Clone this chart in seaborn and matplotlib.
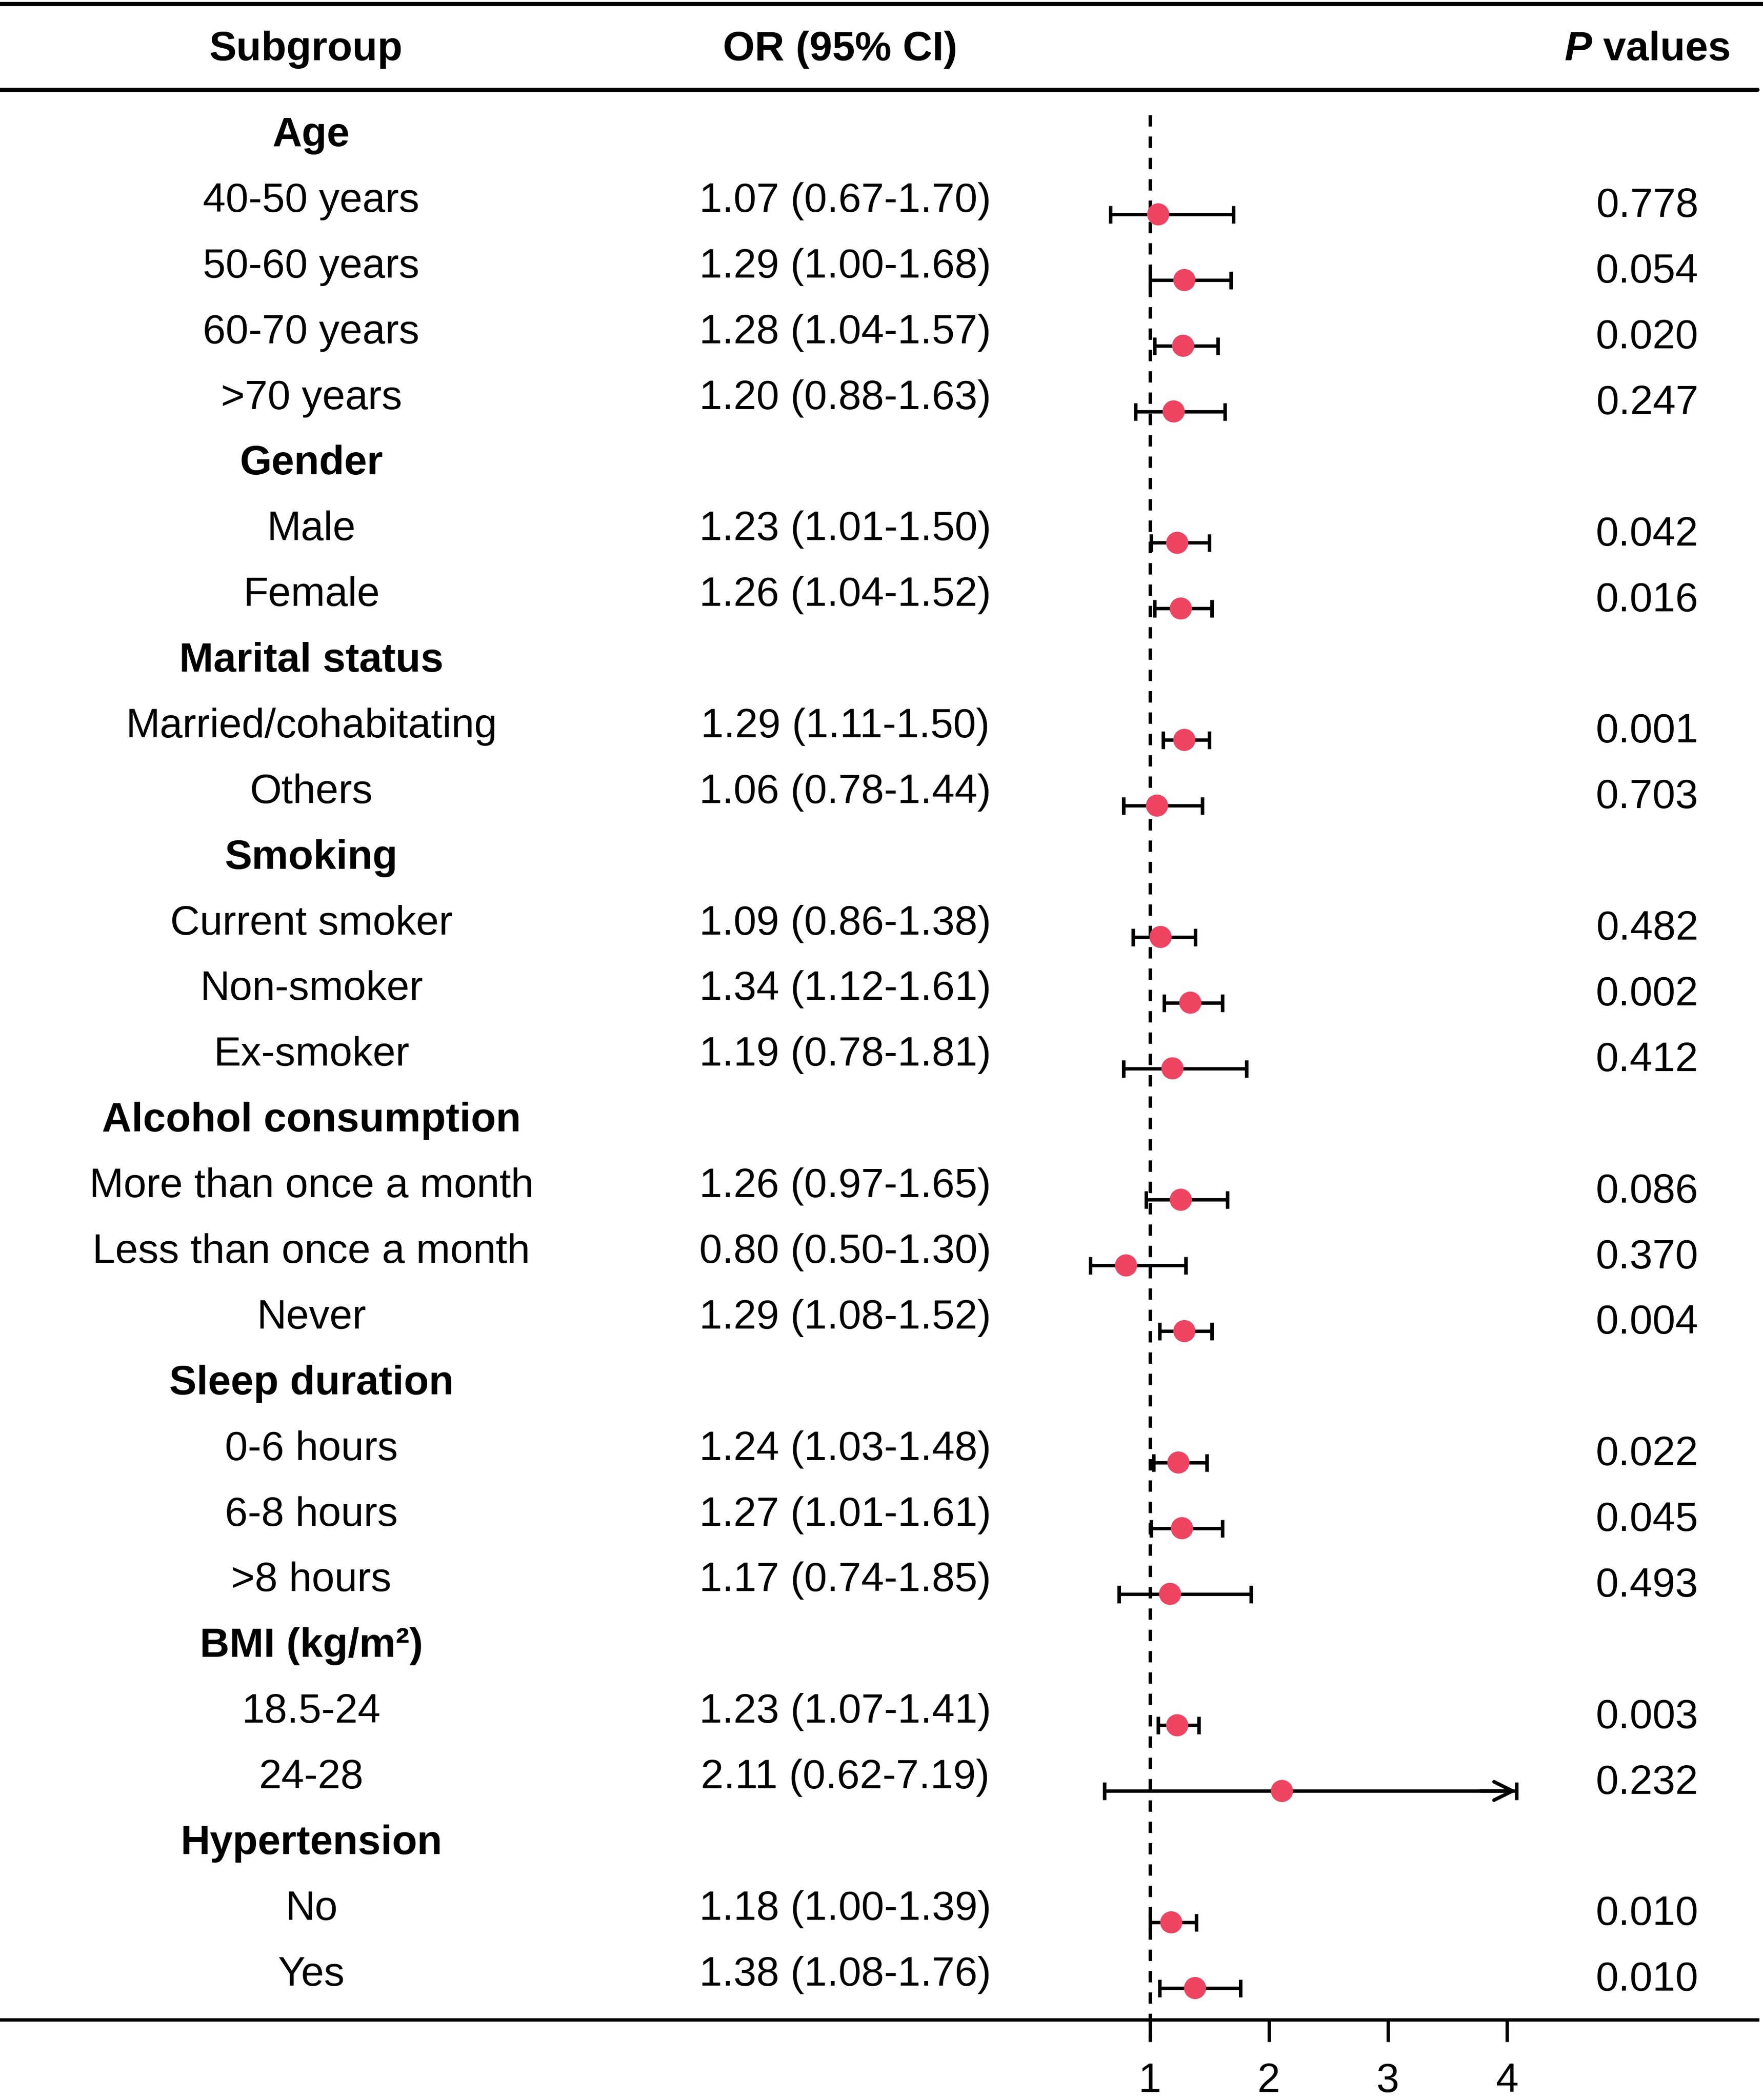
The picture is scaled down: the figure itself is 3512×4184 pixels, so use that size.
import matplotlib
matplotlib.use("Agg")
import matplotlib.pyplot as plt
import matplotlib.transforms as mtransforms
import numpy as np
import pandas as pd
import seaborn as sns

# ---------------- data ----------------
groups = ["Age", "Gender", "Marital status", "Smoking", "Alcohol consumption",
          "Sleep duration", "BMI (kg/m\u00b2)", "Hypertension"]
group_items = [
    ["40-50 years", "50-60 years", "60-70 years", ">70 years"],
    ["Male", "Female"],
    ["Married/cohabitating", "Others"],
    ["Current smoker", "Non-smoker", "Ex-smoker"],
    ["More than once a month", "Less than once a month", "Never"],
    ["0-6 hours", "6-8 hours", ">8 hours"],
    ["18.5-24", "24-28"],
    ["No", "Yes"],
]
or_vals = [1.07, 1.29, 1.28, 1.20, 1.23, 1.26, 1.29, 1.06, 1.09, 1.34, 1.19,
           1.26, 0.80, 1.29, 1.24, 1.27, 1.17, 1.23, 2.11, 1.18, 1.38]
ci_low = [0.67, 1.00, 1.04, 0.88, 1.01, 1.04, 1.11, 0.78, 0.86, 1.12, 0.78,
          0.97, 0.50, 1.08, 1.03, 1.01, 0.74, 1.07, 0.62, 1.00, 1.08]
ci_high = [1.70, 1.68, 1.57, 1.63, 1.50, 1.52, 1.50, 1.44, 1.38, 1.61, 1.81,
           1.65, 1.30, 1.52, 1.48, 1.61, 1.85, 1.41, 7.19, 1.39, 1.76]
p_vals = ["0.778", "0.054", "0.020", "0.247", "0.042", "0.016", "0.001", "0.703",
          "0.482", "0.002", "0.412", "0.086", "0.370", "0.004", "0.022", "0.045",
          "0.493", "0.003", "0.232", "0.010", "0.010"]
x_ticks = [1, 2, 3, 4]
col_headers = ["Subgroup", "OR (95% CI)", "values"]

# ---------------- style ----------------
sns.set_theme(style="white")
plt.rcParams["font.family"] = ["Liberation Sans", "DejaVu Sans"]
plt.rcParams["text.color"] = "black"
plt.rcParams["xtick.color"] = "black"
plt.rcParams["axes.labelcolor"] = "black"
FS = 19.6
MARKER_COLOR = "#EE4462"

W, H, DPI = 3512, 4184, 300
fig = plt.figure(figsize=(W / DPI, H / DPI), dpi=DPI)
fig.patch.set_facecolor("white")

# reference layout (display units of a 1314 x 1568 view)
RW, RH = 1314.0, 1568.0
x_one_px, unit_px = 857.0, 88.7
axis_px, axis_right_px = 1508.0, 1310.0
row0_px, row_step_px = 111.0, 49.05

ax = fig.add_axes([0, 1 - axis_px / RH, axis_right_px / RW, axis_px / RH])
ax.set_xlim(1 - x_one_px / unit_px, 1 + (axis_right_px - x_one_px) / unit_px)
def px2row(p):
    return (p - row0_px) / row_step_px
ax.set_ylim(px2row(axis_px), px2row(0))

# build row table
rows = []
k = 0
pos = 0
for g, items in zip(groups, group_items):
    rows.append(dict(kind="header", label=g, y=pos))
    pos += 1
    for it in items:
        rows.append(dict(kind="item", label=it, y=pos, OR=or_vals[k],
                         lo=ci_low[k], hi=ci_high[k], p=p_vals[k]))
        k += 1
        pos += 1
df = pd.DataFrame(rows)
items_df = df[df.kind == "item"].copy()

# ---------------- forest part ----------------
x_clip = 4.08
hi_clip = np.minimum(items_df["hi"].values, x_clip)
ax.errorbar(items_df["OR"].values, items_df["y"].values,
            xerr=[items_df["OR"].values - items_df["lo"].values,
                  hi_clip - items_df["OR"].values],
            fmt="none", ecolor="black", elinewidth=1.6, capsize=4.2,
            capthick=1.7, zorder=3)
for _, r in items_df[items_df["hi"] > x_clip].iterrows():
    ax.annotate("", xy=(x_clip, r["y"]), xytext=(x_clip - 0.3, r["y"]),
                arrowprops=dict(arrowstyle="->", color="black", lw=1.7,
                                mutation_scale=22, shrinkA=0, shrinkB=0),
                zorder=3)
sns.scatterplot(data=items_df, x="OR", y="y", ax=ax, color=MARKER_COLOR,
                s=112, edgecolor="none", linewidth=0, zorder=4, legend=False)

# reference line at OR = 1
ax.plot([1, 1], [px2row(86), px2row(1524)], color="black", lw=1.7,
        linestyle=(0, (3.2, 2.8)), clip_on=False, zorder=2)

# axes styling
for s in ["top", "right", "left"]:
    ax.spines[s].set_visible(False)
ax.spines["bottom"].set_linewidth(1.6)
ax.spines["bottom"].set_color("black")
ax.set_xticks(x_ticks)
ax.set_xticklabels([str(t) for t in x_ticks])
ax.tick_params(axis="x", direction="out", length=10.5, width=1.6,
               color="black", labelcolor="black", labelsize=FS, pad=10,
               bottom=True)
ax.set_yticks([])
ax.set_xlabel("")
ax.set_ylabel("")
ax.set_facecolor("white")

# horizontal table rules
trans_fx = mtransforms.blended_transform_factory(fig.transFigure, ax.transData)
ax.plot([0, 1], [px2row(3), px2row(3)], color="black", lw=2.0,
        transform=trans_fx, clip_on=False)
ax.plot([0, axis_right_px / RW], [px2row(67), px2row(67)], color="black",
        lw=2.0, transform=trans_fx, clip_on=False)

# ---------------- text columns ----------------
sub_x = 232 / RW
or_x = 630 / RW
p_x = 1266 / RW
txt_off = 0.20
p_off = 0.12

hy = px2row(37)
ax.text(228 / RW, hy, col_headers[0], transform=trans_fx, ha="center",
        va="center", fontsize=FS, fontweight="bold")
ax.text(626 / RW, hy, col_headers[1], transform=trans_fx, ha="center",
        va="center", fontsize=FS, fontweight="bold")
vt = ax.text(1290 / RW, hy, " " + col_headers[2], transform=trans_fx,
             ha="right", va="center", fontsize=FS, fontweight="bold")
fig.canvas.draw()
bb = vt.get_window_extent(renderer=fig.canvas.get_renderer())
left_fig = bb.x0 / fig.bbox.width
ax.text(left_fig, hy, "P", transform=trans_fx, ha="right", va="center",
        fontsize=FS, fontweight="bold", fontstyle="italic")

for _, r in df.iterrows():
    if r["kind"] == "header":
        ax.text(sub_x, r["y"] - txt_off, r["label"], transform=trans_fx,
                ha="center", va="center", fontsize=FS, fontweight="bold")
    else:
        ax.text(sub_x, r["y"] - txt_off, r["label"], transform=trans_fx,
                ha="center", va="center", fontsize=FS)
        ax.text(or_x, r["y"] - txt_off,
                f"{r['OR']:.2f} ({r['lo']:.2f}-{r['hi']:.2f})",
                transform=trans_fx, ha="center", va="center", fontsize=FS)
        ax.text(p_x, r["y"] - p_off, r["p"], transform=trans_fx,
                ha="right", va="center", fontsize=FS)

fig.savefig("out.png", dpi=DPI, facecolor="white")
